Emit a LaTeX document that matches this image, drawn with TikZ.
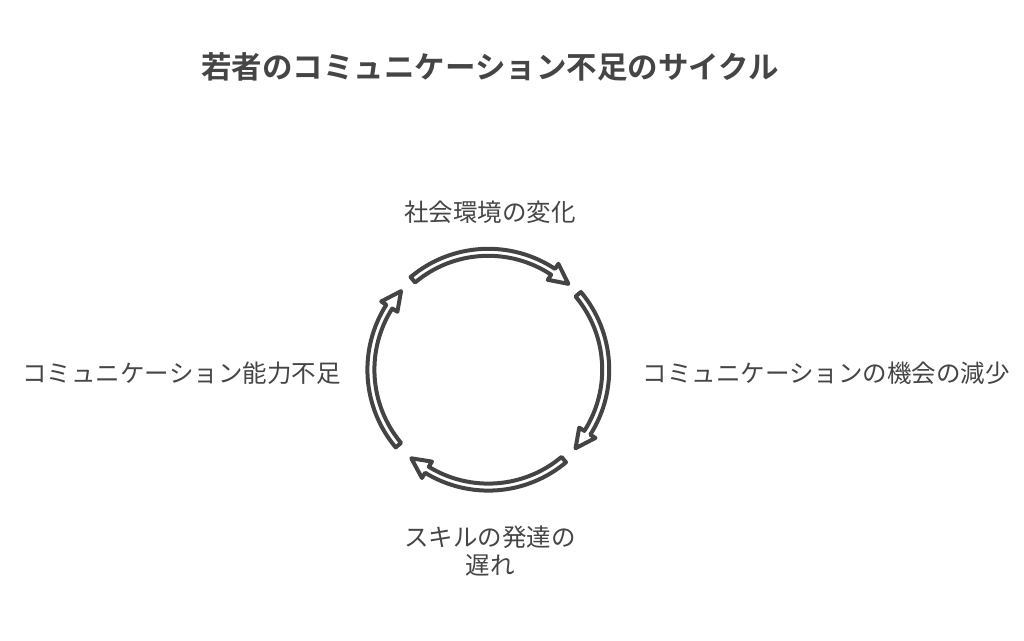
\documentclass[tikz,border=0pt]{standalone}
\usepackage{fontspec}
\setmainfont{Noto Sans CJK JP}
\newfontfamily\jpbold{Noto Sans CJK JP Bold}
\definecolor{ink}{HTML}{444444}
\definecolor{txt}{HTML}{454545}
\tikzset{
  lbl/.style={text=txt, font=\fontsize{24.5}{28}\selectfont, inner sep=0pt, align=center},
  ttl/.style={text=txt, font=\jpbold\fontsize{30.5}{34}\selectfont, inner sep=0pt},
  cyc/.style={draw=ink, fill=white, line width=4pt, line join=round},
}
% \cycarrow{tail angle}{tip angle}
\newcommand{\cycarrow}[2]{%
  \pgfmathsetmacro{\hb}{#2+9.5}%
  \draw[cyc] ($(c)+(#1:120.9)$) arc[start angle=#1, end angle=\hb, radius=120.9pt]
     -- ($(c)+(\hb:127)$) -- ($(c)+(#2:117.4)$) -- ($(c)+(\hb:107.8)$)
     -- ($(c)+(\hb:113.9)$) arc[start angle=\hb, end angle=#1, radius=113.9pt] -- cycle;}
\usetikzlibrary{calc}
\begin{document}
\begin{tikzpicture}[x=1pt,y=1pt]
\useasboundingbox (0,0) rectangle (1024,640);
\fill[white] (0,0) rectangle (1024,640);
\coordinate (c) at (488.3,270.3);
\node[ttl] (title) at (490,573) {若者のコミュニケーション不足のサイクル};
\cycarrow{130}{47}
\cycarrow{40}{-42}
\cycarrow{-50}{-131}
\cycarrow{-140}{-222}
\node[lbl] (top) at (490,428) {社会環境の変化};
\node[lbl] (right) at (826,266.5) {コミュニケーションの機会の減少};
\node[lbl] (bottom) at (490,89) {スキルの発達の\\遅れ};
\node[lbl] (left) at (181.5,266.5) {コミュニケーション能力不足};
\end{tikzpicture}
\end{document}
